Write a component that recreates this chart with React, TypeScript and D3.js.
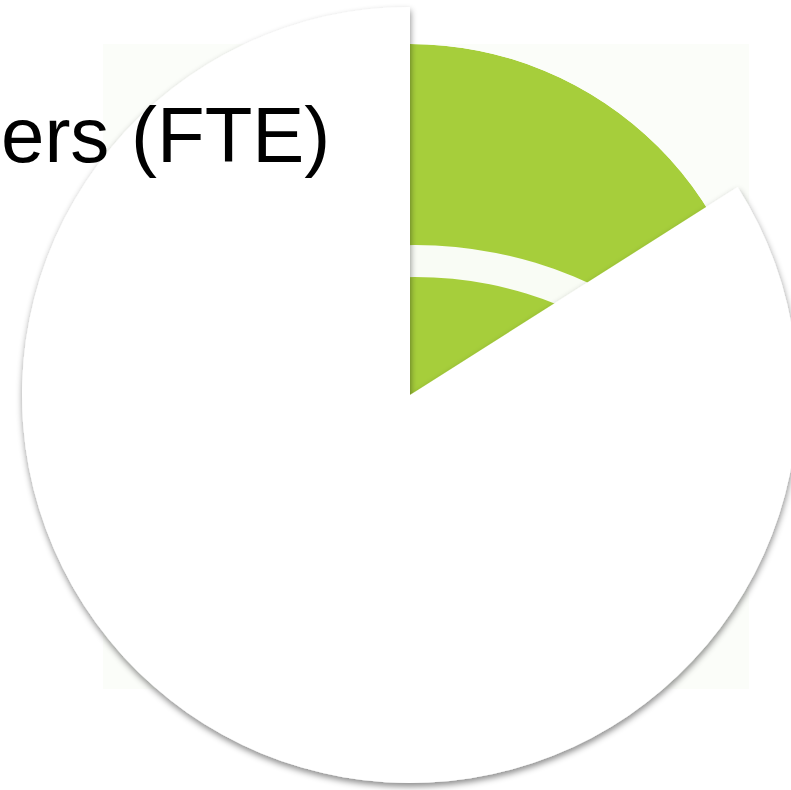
import React from "react";
import * as d3 from "d3";

// Pie data: the first slice is left empty (see-through), the rest is white
const sliceLabels = ["Other", "Teachers (FTE)"];
const sliceValues = [16, 84];
const sliceFills = ["none", "#ffffff"];
const titleText = "ers (FTE)";

// Background logo image elements (green quarter disc with a pale band)
const logoRadii = [351];
const bandRadii = [383, 415];

const W = 791;
const H = 790;
const cx = 410;
const cy = 395;
const R = 388;

export default function App() {
  const pie = d3
    .pie<number>()
    .sort(null)
    .value((d) => d)
    .startAngle(0)
    .endAngle(2 * Math.PI);
  const arcs = pie(sliceValues);
  const arcGen = d3.arc<d3.PieArcDatum<number>>().innerRadius(0).outerRadius(R);

  const disc = d3.arc()({
    innerRadius: 0,
    outerRadius: logoRadii[0],
    startAngle: 0,
    endAngle: 2 * Math.PI,
  } as any) as string;
  const band = d3.arc()({
    innerRadius: bandRadii[0],
    outerRadius: bandRadii[1],
    startAngle: -Math.PI / 2,
    endAngle: Math.PI / 2,
  } as any) as string;

  return (
    <svg
      width={W}
      height={H}
      style={{ position: "absolute", left: 0, top: 0, background: "#ffffff" }}
    >
      <defs>
        <filter id="shadow" x="-10%" y="-10%" width="120%" height="120%">
          <feDropShadow dx="0.5" dy="3.5" stdDeviation="3" floodColor="#000" floodOpacity="0.45" />
        </filter>
        <clipPath id="logoClip">
          <rect x={103} y={44} width={646} height={645} />
        </clipPath>
        <clipPath id="discClip">
          <path d={disc} transform={`translate(${cx},${cy})`} />
        </clipPath>
      </defs>
      {/* background logo image */}
      <g clipPath="url(#logoClip)">
        <rect x={103} y={44} width={646} height={645} fill="#fbfdf9" />
        <g clipPath="url(#discClip)">
          <path d={disc} transform={`translate(${cx},${cy})`} fill="#a6ce3b" />
          <path d={band} transform={`translate(${cx + 5},${cy + 265})`} fill="#f9fcf5" />
        </g>
      </g>
      {/* pie */}
      <g transform={`translate(${cx},${cy})`} filter="url(#shadow)">
        {arcs.map((a, i) =>
          sliceFills[i] === "none" ? null : (
            <path key={sliceLabels[i]} d={arcGen(a) as string} fill={sliceFills[i]} />
          )
        )}
      </g>
      <text
        x={1}
        y={162}
        fontFamily="'Liberation Sans', Arial, sans-serif"
        fontSize={78}
        fill="#000"
      >
        {titleText}
      </text>
    </svg>
  );
}
